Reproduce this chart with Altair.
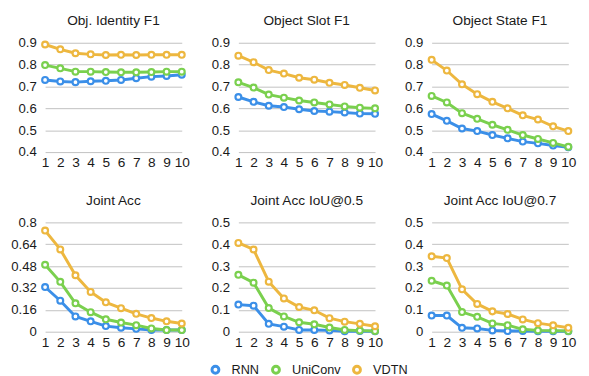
import altair as alt
import pandas as pd

steps = list(range(1, 11))
models = ["RNN", "UniConv", "VDTN"]
colors = ["#3b8fe8", "#7ad04e", "#edb73f"]

titles = ["Obj. Identity F1", "Object Slot F1", "Object State F1",
          "Joint Acc", "Joint Acc IoU@0.5", "Joint Acc IoU@0.7"]

ident_rnn = [0.730, 0.723, 0.720, 0.724, 0.726, 0.730, 0.738, 0.745, 0.748, 0.754]
ident_uni = [0.798, 0.783, 0.768, 0.768, 0.766, 0.765, 0.765, 0.766, 0.768, 0.768]
ident_vdtn = [0.892, 0.870, 0.852, 0.847, 0.844, 0.845, 0.844, 0.845, 0.845, 0.845]

slot_rnn = [0.652, 0.630, 0.612, 0.606, 0.596, 0.588, 0.585, 0.581, 0.576, 0.575]
slot_uni = [0.719, 0.695, 0.663, 0.649, 0.636, 0.627, 0.618, 0.609, 0.603, 0.600]
slot_vdtn = [0.841, 0.811, 0.775, 0.759, 0.740, 0.731, 0.717, 0.707, 0.694, 0.682]

state_rnn = [0.574, 0.543, 0.508, 0.496, 0.478, 0.463, 0.448, 0.440, 0.430, 0.422]
state_uni = [0.657, 0.627, 0.578, 0.552, 0.525, 0.502, 0.478, 0.460, 0.442, 0.424]
state_vdtn = [0.822, 0.773, 0.710, 0.665, 0.630, 0.600, 0.568, 0.549, 0.518, 0.496]

joint_rnn = [0.327, 0.227, 0.112, 0.076, 0.041, 0.029, 0.021, 0.012, 0.012, 0.012]
joint_uni = [0.490, 0.365, 0.208, 0.143, 0.091, 0.067, 0.048, 0.024, 0.012, 0.012]
joint_vdtn = [0.740, 0.602, 0.413, 0.291, 0.215, 0.172, 0.131, 0.100, 0.076, 0.060]

iou5_rnn = [0.124, 0.119, 0.036, 0.023, 0.008, 0.008, 0.006, 0.002, 0.003, 0.002]
iou5_uni = [0.260, 0.224, 0.108, 0.070, 0.043, 0.034, 0.019, 0.008, 0.005, 0.003]
iou5_vdtn = [0.406, 0.376, 0.229, 0.152, 0.113, 0.098, 0.062, 0.046, 0.036, 0.025]

iou7_rnn = [0.074, 0.074, 0.018, 0.015, 0.006, 0.003, 0.003, 0.002, 0.002, 0.002]
iou7_uni = [0.233, 0.211, 0.090, 0.068, 0.038, 0.030, 0.011, 0.006, 0.005, 0.003]
iou7_vdtn = [0.345, 0.337, 0.194, 0.127, 0.093, 0.081, 0.056, 0.039, 0.029, 0.018]

series = [
    (ident_rnn, ident_uni, ident_vdtn),
    (slot_rnn, slot_uni, slot_vdtn),
    (state_rnn, state_uni, state_vdtn),
    (joint_rnn, joint_uni, joint_vdtn),
    (iou5_rnn, iou5_uni, iou5_vdtn),
    (iou7_rnn, iou7_uni, iou7_vdtn),
]

f1_ticks = [0.4, 0.5, 0.6, 0.7, 0.8, 0.9]
joint_ticks = [0, 0.16, 0.32, 0.48, 0.64, 0.8]
iou_ticks = [0, 0.1, 0.2, 0.3, 0.4, 0.5]
tick_sets = [f1_ticks, f1_ticks, f1_ticks, joint_ticks, iou_ticks, iou_ticks]

FONT = "Liberation Sans"
TXT = "#1a1a1a"
color_scale = alt.Scale(domain=models, range=colors)


def panel(i):
    rows = []
    for m, vals in zip(models, series[i]):
        for s, v in zip(steps, vals):
            rows.append({"step": s, "value": v, "model": m})
    df = pd.DataFrame(rows)
    ticks = tick_sets[i]
    fmt = ".2~f" if i == 3 else ".1~f"
    x = alt.X("step:Q", scale=alt.Scale(domain=[1, 10], nice=False),
              axis=alt.Axis(values=steps, title=None, grid=False, domain=False,
                            ticks=False, labelFontSize=14, labelFont=FONT,
                            labelColor=TXT, labelFlush=False, labelOverlap=False,
                            labelPadding=4, format="d"))
    y = alt.Y("value:Q", scale=alt.Scale(domain=[ticks[0], ticks[-1]], nice=False, zero=False),
              axis=alt.Axis(values=ticks, title=None, grid=True, gridColor="#c0c0c0",
                            gridWidth=1, domain=False, ticks=False, labelFontSize=13.5,
                            labelFont=FONT, labelColor=TXT, labelPadding=9,
                            format=fmt))
    legend = alt.Legend(title=None, orient="none", direction="horizontal",
                        legendX=168, legendY=328, labelFontSize=13,
                        labelFont=FONT, labelColor=TXT,
                        symbolType="circle", symbolFillColor="white",
                        symbolStrokeWidth=3, symbolSize=50,
                        columnPadding=6, labelOffset=10)
    line = alt.Chart(df).mark_line(strokeWidth=3).encode(
        x=x, y=y, color=alt.Color("model:N", scale=color_scale, legend=legend))
    pts = alt.Chart(df).mark_point(filled=True, fill="white", size=36, strokeWidth=2.2,
                                   opacity=1).encode(
        x=x, y=y, stroke=alt.Stroke("model:N", scale=color_scale, legend=None))
    return (line + pts).properties(
        width=140, height=112,
        title=alt.TitleParams(titles[i], fontSize=14, font=FONT, fontWeight="normal",
                              color=TXT, offset=8))


chart = alt.concat(*[panel(i) for i in range(6)], columns=3,
                   spacing={"row": 72, "column": 58},
                   bounds="flush").configure_view(stroke=None).properties(
    padding={"left": 2, "top": 2, "right": 5, "bottom": 2})

chart.save("out.html", embed_options={"renderer": "svg", "actions": False})
